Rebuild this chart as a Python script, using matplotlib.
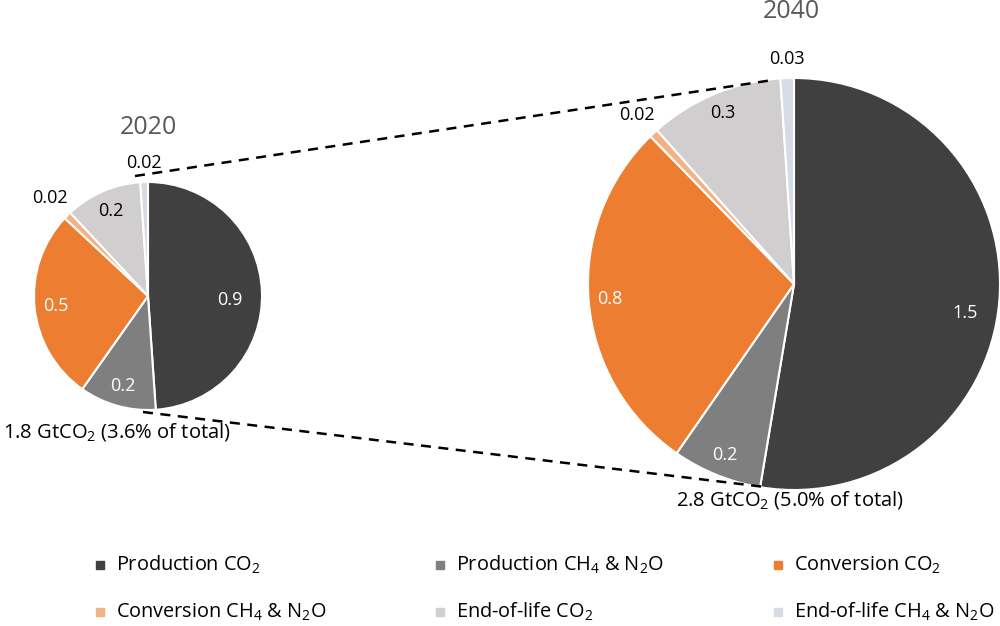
import numpy as np
import matplotlib.pyplot as plt
from matplotlib.patches import Rectangle

plt.rcParams['font.family'] = ['Open Sans', 'DejaVu Sans']
plt.rcParams['mathtext.fontset'] = 'custom'
plt.rcParams['mathtext.rm'] = 'Open Sans'

categories = ["Production CO$_\\mathrm{2}$", "Production CH$_\\mathrm{4}$ & N$_\\mathrm{2}$O",
              "Conversion CO$_\\mathrm{2}$", "Conversion CH$_\\mathrm{4}$ & N$_\\mathrm{2}$O",
              "End-of-life CO$_\\mathrm{2}$", "End-of-life CH$_\\mathrm{4}$ & N$_\\mathrm{2}$O"]
values_2020 = [0.9, 0.2, 0.5, 0.02, 0.2, 0.02]
values_2040 = [1.5, 0.2, 0.8, 0.02, 0.3, 0.03]
labels_2020 = ["0.9", "0.2", "0.5", "0.02", "0.2", "0.02"]
labels_2040 = ["1.5", "0.2", "0.8", "0.02", "0.3", "0.03"]
totals = ["1.8 GtCO$_\\mathrm{2}$ (3.6% of total)", "2.8 GtCO$_\\mathrm{2}$ (5.0% of total)"]
years = ["2020", "2040"]

colors = ["#404040", "#7f7f7f", "#ed7d31", "#f4b183", "#d0cece", "#d6dce5"]
text_colors = ["white", "white", "white", "black", "black", "black"]
# label offset from the rim in pixels (negative = inside)
label_off = [-32, -21, -21, 25, -21, 19]

H = 626
fig = plt.figure(figsize=(10, 6.26), dpi=100)
ax = fig.add_axes([0, 0, 1, 1])


def draw_pie(values, labels, center, radius):
    wedges, _ = ax.pie(values, colors=colors, startangle=90, counterclock=False,
                       center=center, radius=radius, frame=True,
                       wedgeprops=dict(edgecolor="white", linewidth=1.5))
    for k, (w, lab, tc, d) in enumerate(zip(wedges, labels, text_colors, label_off)):
        mid = (w.theta1 + w.theta2) / 2
        if k == 0:
            mid -= 5  # excel puts the big slice label a bit lower
        ang = np.deg2rad(mid)
        x = center[0] + (radius + d) * np.cos(ang)
        y = center[1] + (radius + d) * np.sin(ang)
        ax.text(x, y, lab, color=tc, fontsize=13, ha="center", va="center")


c1, r1 = (148, H - 296), 114
c2, r2 = (794, H - 284), 206
draw_pie(values_2020, labels_2020, c1, r1)
draw_pie(values_2040, labels_2040, c2, r2)

ax.text(148, H - 128, years[0], fontsize=18, color="#595959", ha="center", va="center")
ax.text(791, H - 12, years[1], fontsize=18, color="#595959", ha="center", va="center")

ax.text(117, H - 432, totals[0], fontsize=14.5, ha="center", va="center")
ax.text(790, H - 500, totals[1], fontsize=14.5, ha="center", va="center")

# connecting dashed lines
ax.plot([135, 773], [H - 176, H - 80], color="black", lw=1.8, ls=(0, (4, 3)))
ax.plot([143, 765], [H - 412, H - 487], color="black", lw=1.8, ls=(0, (4, 3)))

# legend
leg_x = [100, 440, 778]
leg_y = [565, 612]
for i, (cat, col) in enumerate(zip(categories, colors)):
    x = leg_x[i % 3]
    y = H - leg_y[i // 3]
    ax.add_patch(Rectangle((x - 4, y - 4), 8, 8, color=col))
    ax.text(x + 16, y, cat, fontsize=14.3, ha="left", va="center")

ax.set_xlim(0, 1000)
ax.set_ylim(0, H)
ax.set_aspect("equal")
ax.axis("off")

fig.savefig("out.png", dpi=100)
